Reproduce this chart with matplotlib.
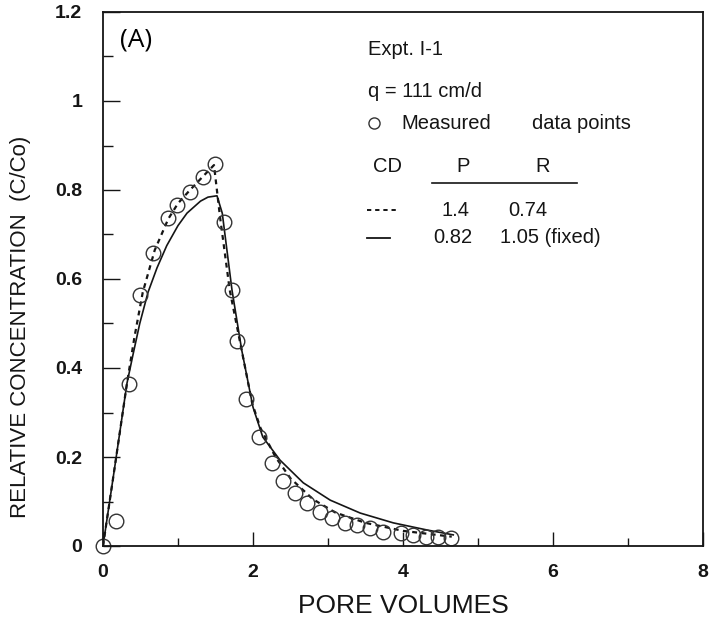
import numpy as np
import matplotlib
matplotlib.use('Agg')
import matplotlib.pyplot as plt
from matplotlib.ticker import MultipleLocator, FormatStrFormatter

plt.rcParams['font.family'] = ['Liberation Sans', 'DejaVu Sans']

# ── Measured data points (Expt. I-1) ──
meas_pv = [0.0, 0.17, 0.35, 0.49, 0.67, 0.87, 0.99, 1.16, 1.33, 1.49, 1.61, 1.72,
           1.79, 1.91, 2.08, 2.25, 2.40, 2.56, 2.72, 2.89, 3.05, 3.23, 3.39,
           3.56, 3.73, 3.97, 4.13, 4.30, 4.47, 4.64]
meas_c = [0.0, 0.056, 0.364, 0.564, 0.658, 0.737, 0.766, 0.796, 0.829, 0.858, 0.728, 0.575,
          0.461, 0.330, 0.245, 0.186, 0.146, 0.119, 0.097, 0.077, 0.062, 0.051, 0.047,
          0.040, 0.032, 0.030, 0.025, 0.021, 0.020, 0.018]

# ── CD fit, P = 1.4, R = 0.74 (dashed) ──
fit1_pv = [0.0, 0.15, 0.32, 0.42, 0.53, 0.69, 0.87, 1.0, 1.16, 1.33, 1.48,
           1.56, 1.69, 1.83, 1.99, 2.1, 2.3, 2.5, 2.8, 3.1, 3.5, 4.0, 4.65]
fit1_c = [0.0, 0.17, 0.366, 0.47, 0.57, 0.665, 0.735, 0.77, 0.80, 0.83, 0.856,
          0.74, 0.575, 0.456, 0.32, 0.265, 0.20, 0.152, 0.105, 0.075, 0.052, 0.034, 0.021]

# ── CD fit, P = 0.82, R = 1.05 fixed (solid) ──
fit2_pv = [0.0, 0.15, 0.32, 0.40, 0.49, 0.60, 0.72, 0.85, 1.0, 1.12, 1.30, 1.40, 1.52,
           1.59, 1.72, 1.85, 2.0, 2.13, 2.36, 2.67, 3.03, 3.43, 3.87, 4.32, 4.67]
fit2_c = [0.0, 0.17, 0.366, 0.43, 0.50, 0.57, 0.625, 0.675, 0.72, 0.748, 0.775, 0.784, 0.787,
          0.748, 0.575, 0.44, 0.312, 0.245, 0.193, 0.142, 0.103, 0.074, 0.052, 0.036, 0.025]

ink = '#151515'

fig = plt.figure(figsize=(7.11, 6.28), dpi=100)
fig.patch.set_facecolor('white')
ax = fig.add_axes([103 / 711, 82 / 628, 600 / 711, 534 / 628])

ax.plot(fit1_pv, fit1_c, color=ink, linewidth=1.6, dashes=(2.2, 2.0))
ax.plot(fit2_pv, fit2_c, color=ink, linewidth=1.2)
ax.plot(meas_pv, meas_c, 'o', markersize=10.5, markerfacecolor='none',
        markeredgecolor='#333333', markeredgewidth=1.0, clip_on=False)

ax.set_xlim(0, 8)
ax.set_ylim(0, 1.2)
ax.xaxis.set_major_locator(MultipleLocator(2))
ax.xaxis.set_minor_locator(MultipleLocator(1))
ax.yaxis.set_major_locator(MultipleLocator(0.2))
ax.yaxis.set_minor_locator(MultipleLocator(0.1))
ax.xaxis.set_major_formatter(FormatStrFormatter('%g'))
ax.yaxis.set_major_formatter(FormatStrFormatter('%g'))

ax.tick_params(which='both', direction='in', top=False, right=False, colors=ink,
               labelsize=14, width=1.0)
ax.tick_params(axis='y', which='major', length=12, pad=15)
ax.tick_params(axis='y', which='minor', length=7)
ax.tick_params(axis='x', which='major', length=10, pad=13)
ax.tick_params(axis='x', which='minor', length=6)
for lbl in ax.get_xticklabels() + ax.get_yticklabels():
    lbl.set_fontweight('bold')
for spine in ax.spines.values():
    spine.set_color(ink)
    spine.set_linewidth(1.3)

ax.set_xlabel('PORE VOLUMES', fontsize=19, color=ink, labelpad=9)
ax.set_ylabel('RELATIVE CONCENTRATION  (C/Co)', fontsize=16, color=ink)
ax.yaxis.set_label_coords(-0.12, 0.41)

# panel label
ax.text(0.028, 0.948, '(A)', transform=ax.transAxes, fontsize=19,
        family=['Open Sans', 'DejaVu Sans'], color='black', va='center', ha='left')

# annotation block
tk = dict(transform=ax.transAxes, fontsize=14.5, color=ink, va='center')
ax.text(0.442, 0.929, 'Expt. I-1', ha='left', **tk)
ax.text(0.442, 0.852, 'q = 111 cm/d', ha='left', **tk)
ax.plot([0.452], [0.792], 'o', transform=ax.transAxes, markersize=8,
        markerfacecolor='none', markeredgecolor='#333333', markeredgewidth=1.0)
ax.text(0.498, 0.792, 'Measured', ha='left', **tk)
ax.text(0.715, 0.792, 'data points', ha='left', **tk)
ax.text(0.45, 0.71, 'CD', ha='left', **tk)
ax.text(0.60, 0.71, 'P', ha='center', **tk)
ax.text(0.733, 0.71, 'R', ha='center', **tk)
ax.plot([0.548, 0.79], [0.68, 0.68], transform=ax.transAxes, color=ink, linewidth=1.2)
ax.plot([0.44, 0.49], [0.629, 0.629], transform=ax.transAxes, color=ink,
        linewidth=1.4, dashes=(2.2, 2.0))
ax.text(0.565, 0.629, '1.4', ha='left', **tk)
ax.text(0.675, 0.629, '0.74', ha='left', **tk)
ax.plot([0.44, 0.478], [0.577, 0.577], transform=ax.transAxes, color=ink, linewidth=1.3)
ax.text(0.55, 0.577, '0.82', ha='left', **tk)
ax.text(0.662, 0.577, '1.05 (fixed)', ha='left', **tk)

fig.savefig('out.png', dpi=100, facecolor='white')
